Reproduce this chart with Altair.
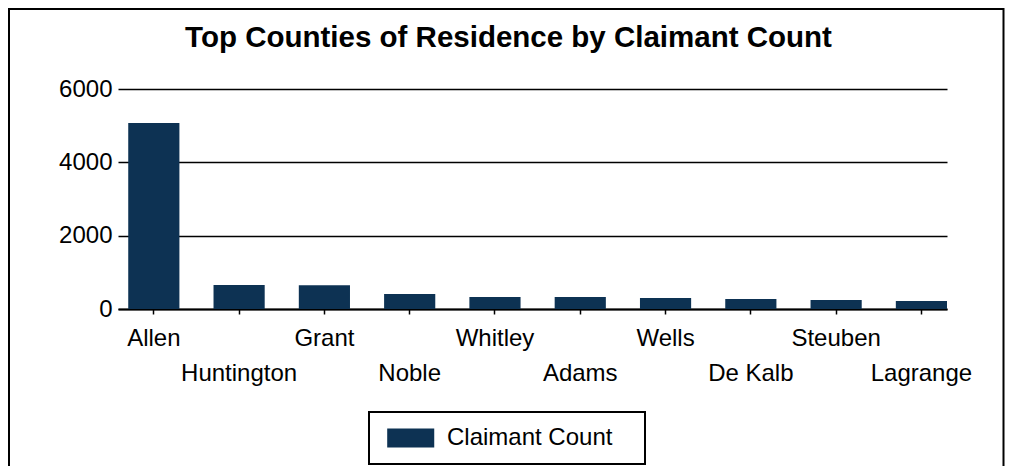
import json
import altair as alt
import pandas as pd

counties = ["Allen", "Huntington", "Grant", "Noble", "Whitley", "Adams",
            "Wells", "De Kalb", "Steuben", "Lagrange"]
counts = [5070, 655, 650, 410, 330, 325, 300, 275, 245, 220]
series = ["Claimant Count"] * len(counties)
y_ticks = [0, 2000, 4000, 6000]

df = pd.DataFrame({"County": counties, "Count": counts, "Series": series})

FONT = "Liberation Sans"
BAR = "#0d3253"
FS = 24
second_row = [c for i, c in enumerate(counties) if i % 2 == 1]
test = "indexof(" + json.dumps(second_row) + ", datum.value) >= 0"

W, H = 829, 220

bars = alt.Chart(df).mark_bar().encode(
    x=alt.X("County:N", sort=counties,
            scale=alt.Scale(paddingInner=0.4, paddingOuter=0.06, align=1),
            axis=alt.Axis(title=None, labelAngle=0, labelFont=FONT, labelFontSize=FS,
                          labelColor="black", labelOverlap=False,
                          labelPadding={"condition": {"test": test, "value": 47}, "value": 12},
                          domainColor="black", domainWidth=2, tickColor="black",
                          tickWidth=1.5, tickSize=5, grid=False)),
    y=alt.Y("Count:Q", scale=alt.Scale(domain=[0, 6000]),
            axis=alt.Axis(title=None, values=y_ticks, format="d", domain=False, ticks=False,
                          labelPadding=6, labelFont=FONT, labelFontSize=FS, labelColor="black",
                          gridColor="black", gridWidth=1.5, gridOpacity=1)),
    color=alt.Color("Series:N", scale=alt.Scale(range=[BAR]),
                    legend=alt.Legend(title=None, orient="none", legendX=251, legendY=323,
                                      strokeColor="black", padding=14,
                                      symbolType="M-0.65,-0.79H3.27V0.79H-0.65Z",
                                      symbolSize=576,
                                      symbolStrokeWidth=0, symbolOpacity=1,
                                      labelFont=FONT, labelFontSize=FS, labelColor="black",
                                      labelOffset=40, labelLimit=400,
                                      labelExpr="datum.label + '\u2800'")),
)

border = alt.Chart(alt.Data(values=[{}])).mark_rect(
    fill="white", fillOpacity=0, stroke="black", strokeWidth=2
).encode(
    x=alt.value(-109), x2=alt.value(885.5), y=alt.value(-80), y2=alt.value(420)
)

chart = alt.layer(border, bars).properties(
    width=W, height=H,
    title=alt.Title("Top Counties of Residence by Claimant Count", fontSize=29.5,
                    fontWeight="bold", font=FONT, color="black", anchor="middle",
                    baseline="alphabetic", dx=-24, offset=-68),
    autosize=alt.AutoSizeParams(type="none"),
    padding={"left": 110, "top": 81, "right": 58, "bottom": 157},
).configure(background="white").configure_view(stroke=None, strokeWidth=0).configure_legend(strokeWidth=2)

chart.save("out.html", embed_options={"renderer": "svg", "actions": False})
